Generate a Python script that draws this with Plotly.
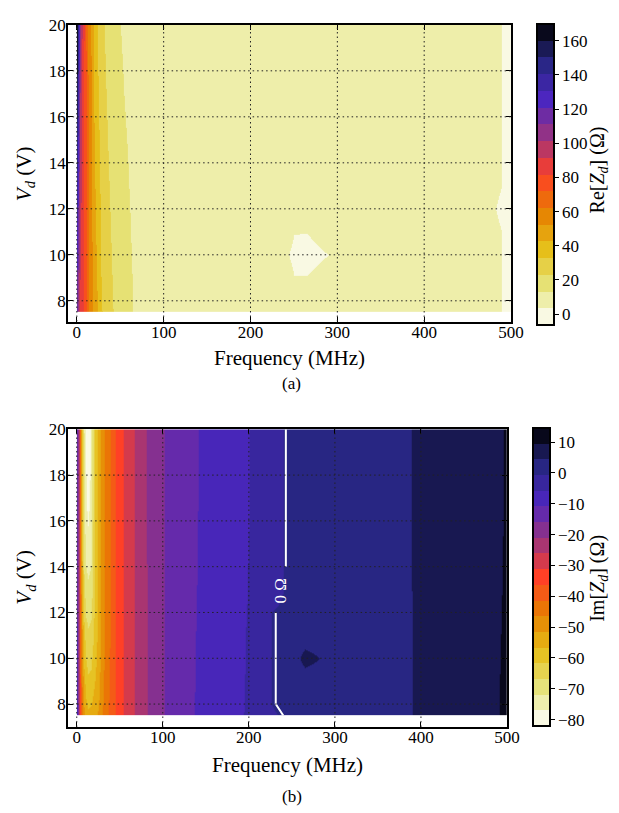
import plotly.graph_objects as go

# ---------------- data ----------------
freq_mhz = [0, 2, 4, 6, 8, 10, 13, 16, 20, 24, 28, 33, 39, 44, 54, 66, 80, 100,
            138, 197, 230, 250, 265, 300, 393, 450, 490, 500]
vd_volts = [7.5, 8, 9, 10, 11, 12, 13, 14, 16, 18, 20]

# Re[Z_d] (Ohm), one row per V_d
re_zd = [
    [112, 98, 90, 85, 80, 73, 64, 57, 48, 42, 34, 29, 25, 21.5, 16.8, 13.0, 11.0, 9.5, 8.8, 8.3, 8.0, 7.8, 7.7, 7.5, 7.0, 6.0, 3.5, 1.5],
    [114, 99, 90.5, 85.3, 80.1, 73, 63.9, 56.8, 47.7, 41.6, 33.7, 28.7, 24.7, 21.2, 16.6, 12.9, 10.9, 9.5, 8.8, 8.3, 8.0, 7.8, 7.7, 7.5, 7.0, 6.0, 3.5, 1.5],
    [119, 101, 91.8, 85.8, 80.2, 72.9, 63.8, 56.4, 47.0, 40.7, 33.0, 28.1, 24.1, 20.7, 16.3, 12.7, 10.8, 9.4, 8.7, 8.3, 8.0, 3.75, 3.85, 7.5, 7.0, 6.0, 3.5, 1.5],
    [124, 103, 93.0, 86.4, 80.4, 72.8, 63.6, 56.0, 46.4, 39.8, 32.4, 27.5, 23.5, 20.2, 15.9, 12.5, 10.7, 9.4, 8.7, 8.2, 6.0, 2.5, 1.5, 4.5, 7.0, 6.0, 3.5, 1.5],
    [128, 106, 94.2, 87.0, 80.6, 72.7, 63.4, 55.6, 45.8, 38.9, 31.8, 26.9, 22.9, 19.7, 15.5, 12.3, 10.6, 9.3, 8.7, 8.2, 7.9, 3.75, 3.7, 7.5, 7.0, 6.0, 3.5, 1.5],
    [133, 108, 95.4, 87.5, 80.7, 72.6, 63.3, 55.2, 45.1, 38.0, 31.1, 26.3, 22.3, 19.2, 15.2, 12.1, 10.5, 9.2, 8.6, 8.2, 7.9, 7.7, 7.6, 7.5, 7.0, 5.8, 3.0, 1.5],
    [137.5, 110, 96.6, 88.1, 80.9, 72.6, 63.1, 54.8, 44.5, 37.2, 30.5, 25.7, 21.7, 18.6, 14.8, 11.9, 10.3, 9.2, 8.6, 8.2, 7.9, 7.7, 7.6, 7.5, 7.0, 6.0, 3.5, 1.5],
    [142, 112, 97.8, 88.6, 81.0, 72.5, 63.0, 54.4, 43.8, 36.3, 29.8, 25.1, 21.1, 18.1, 14.5, 11.7, 10.2, 9.1, 8.5, 8.1, 7.9, 7.7, 7.6, 7.4, 7.0, 6.0, 3.5, 1.5],
    [151, 116, 100.2, 89.8, 81.4, 72.3, 62.6, 53.6, 42.6, 34.5, 28.6, 23.9, 19.9, 17.1, 13.7, 11.3, 10.0, 9.0, 8.5, 8.1, 7.9, 7.7, 7.6, 7.4, 7.0, 6.0, 3.5, 1.5],
    [161, 121, 102.6, 90.9, 81.7, 72.2, 62.3, 52.8, 41.3, 32.8, 27.3, 22.7, 18.7, 16.0, 13.0, 10.9, 9.7, 8.9, 8.4, 8.0, 7.8, 7.6, 7.5, 7.4, 7.0, 6.0, 3.5, 1.5],
    [170, 125, 105, 92, 82, 72, 62, 52, 40, 31, 26, 21.5, 17.5, 15, 12.3, 10.5, 9.5, 8.8, 8.3, 8.0, 7.8, 7.6, 7.5, 7.4, 7.0, 6.0, 3.5, 1.5],
]

# Im[Z_d] (Ohm), one row per V_d
im_zd = [
    [-10, -22, -35, -44, -50, -54, -55.5, -55, -53, -51, -48, -43.5, -39.5, -36.5, -31.4, -26.4, -21.4, -16.2, -10.7, -5.5, -1.2, 1.2, 1.4, 2.1, 4.4, 7.5, 9.0, 14.5],
    [-10, -22, -35.5, -45, -52, -56, -57.5, -57, -55, -52.5, -49, -44, -40, -36.5, -31.4, -26.4, -21.4, -16.2, -10.7, -5.6, -0.1, 1.5, 1.3, 2.1, 4.4, 7.5, 9.0, 13.5],
    [-10.3, -22.5, -36, -47, -55, -59, -61, -60.5, -57.5, -54, -50, -45, -40.3, -36.5, -31.4, -26.4, -21.4, -16.2, -10.8, -5.6, -0.1, 1.5, 1.8, 2.1, 4.4, 7.4, 9.0, 12.5],
    [-10.5, -23, -37, -49, -58, -62, -63.5, -63, -59.5, -55, -50.5, -45.5, -40.5, -36.5, -31.4, -26.4, -21.4, -16.2, -10.8, -5.7, -0.1, 1.5, 6.0, 2.5, 4.4, 7.4, 9.0, 12.0],
    [-10.8, -23.5, -37.5, -51, -60, -64.5, -66, -65.5, -61, -55.5, -50.5, -45.7, -40.7, -36.5, -31.4, -26.4, -21.4, -16.2, -10.9, -5.7, -0.1, 1.5, 1.8, 2.1, 4.4, 7.3, 8.9, 11.0],
    [-11, -24, -38, -53, -63, -67.5, -68.5, -67.5, -62, -55.8, -50.7, -45.8, -40.8, -36.5, -31.4, -26.4, -21.4, -16.2, -11.0, -5.8, -0.1, 1.5, 1.3, 2.1, 4.4, 7.2, 8.9, 10.5],
    [-11.2, -24.3, -38.5, -55, -65.5, -70, -71, -70, -62.5, -55.9, -50.8, -46.0, -41.0, -36.5, -31.4, -26.4, -21.4, -16.2, -11.0, -5.9, -4.0, 2.15, 2.3, 2.6, 4.4, 7.1, 8.9, 10.2],
    [-11.4, -24.5, -39, -56.5, -67.5, -72, -73, -72, -63, -56, -51, -46.1, -41.1, -36.5, -31.4, -26.4, -21.4, -16.2, -11.1, -5.9, -4.0, 2.15, 2.3, 2.6, 4.4, 7.1, 8.8, 10.1],
    [-11.6, -24.7, -39.5, -58, -70, -75.5, -77.5, -74.5, -63, -56, -51, -46.2, -41.2, -36.5, -31.4, -26.4, -21.3, -16.2, -11.1, -6.0, -4.0, 2.15, 2.3, 2.6, 4.4, 7.0, 8.8, 10.0],
    [-11.8, -25, -40, -59, -71, -77, -80.5, -75.5, -63, -56, -51, -46.2, -41.2, -36.5, -31.4, -26.4, -21.3, -16.2, -11.2, -6.0, -4.0, 2.15, 2.3, 2.6, 4.4, 7.0, 8.8, 10.0],
    [-12, -25, -40, -60, -72, -78, -82, -76, -63, -56, -51, -46.2, -41.2, -36.5, -31.4, -26.4, -21.3, -16.2, -11.2, -6.0, -4.0, 2.15, 2.3, 2.6, 4.4, 7.0, 8.8, 9.9],
]

re_levels = dict(zmin=-6.2, zmax=170.0, bands=18)
im_levels = dict(zmin=-82.1, zmax=14.5, bands=19)

x_ticks = [0, 100, 200, 300, 400, 500]
y_ticks = [8, 10, 12, 14, 16, 18, 20]
re_cb_ticks = [0, 20, 40, 60, 80, 100, 120, 140, 160]
im_cb_ticks = [-80, -70, -60, -50, -40, -30, -20, -10, 0, 10]

SERIF = "Times New Roman"
W, H = 619, 813
HS = 1.0235  # horizontal placement factor (the captured page comes out slightly narrower)


def fx(px):
    return px * HS / W


def fy(px):
    return 1 - px / H


# ---------------- colour map (matplotlib CMRmap, reversed) ----------------
CMR = [(0.0, (0, 0, 0)), (0.125, (0.15, 0.15, 0.5)), (0.25, (0.3, 0.15, 0.75)),
       (0.375, (0.6, 0.2, 0.5)), (0.5, (1.0, 0.25, 0.15)), (0.625, (0.9, 0.5, 0.0)),
       (0.75, (0.9, 0.75, 0.1)), (0.875, (0.9, 0.9, 0.5)), (1.0, (1.0, 1.0, 1.0))]


def cmr_r(t):
    s = 1.0 - t
    for (a, ca), (b, cb) in zip(CMR[:-1], CMR[1:]):
        if s <= b:
            u = (s - a) / (b - a)
            return "rgb(%d,%d,%d)" % tuple(round(255 * (ca[i] + u * (cb[i] - ca[i]))) for i in range(3))
    return "rgb(255,255,255)"


def stepped_scale(n):
    cols = [cmr_r((j + 0.5) / n) for j in range(n)]
    scale = []
    for j, c in enumerate(cols):
        scale += [[j / n, c], [(j + 1) / n, c]]
    return scale


def minus(v):
    return ("\u2212%g" % abs(v)) if v < 0 else "%g" % v


def filled(z, lv, xa, ya):
    n = lv["bands"]
    size = (lv["zmax"] - lv["zmin"]) / n
    return go.Contour(
        x=freq_mhz, y=vd_volts, z=z, xaxis=xa, yaxis=ya,
        autocontour=False,
        contours=dict(start=lv["zmin"] + size, end=lv["zmax"] - size + size * 1e-3,
                      size=size, coloring="heatmap", showlines=False),
        colorscale=stepped_scale(n), zauto=False, zmin=lv["zmin"], zmax=lv["zmax"],
        line=dict(width=0, smoothing=0), showscale=False, hoverinfo="skip")


def colorbar_holder(lv, ticks, xa, ya, cx, cy, clen):
    return go.Scatter(
        x=[freq_mhz[0]], y=[vd_volts[0]], xaxis=xa, yaxis=ya, mode="markers",
        marker=dict(size=1, opacity=0, color=[lv["zmin"]], cmin=lv["zmin"], cmax=lv["zmax"],
                    colorscale=stepped_scale(lv["bands"]), showscale=True,
                    colorbar=dict(x=cx, xanchor="left", y=cy, yanchor="middle",
                                  len=clen, lenmode="fraction", thickness=17,
                                  thicknessmode="pixels", xpad=0, ypad=0,
                                  outlinewidth=2, outlinecolor="black",
                                  tickvals=ticks, ticktext=[minus(t) for t in ticks],
                                  ticks="outside", ticklen=4, tickwidth=1, tickcolor="black",
                                  tickfont=dict(family=SERIF, size=17, color="black"))),
        hoverinfo="skip", showlegend=False)


def zero_line(rows, xa, ya):
    return go.Contour(
        x=freq_mhz, y=[vd_volts[i] for i in rows], z=[im_zd[i] for i in rows],
        xaxis=xa, yaxis=ya, autocontour=False,
        contours=dict(start=0, end=0.5, size=1, coloring="none", showlines=True),
        line=dict(color="white", width=2, smoothing=0), showscale=False, hoverinfo="skip")


fig = go.Figure()
fig.add_trace(filled(re_zd, re_levels, "x", "y"))
fig.add_trace(filled(im_zd, im_levels, "x2", "y2"))
fig.add_trace(zero_line([0, 1, 2, 3, 4, 5], "x2", "y2"))
fig.add_trace(zero_line([7, 8, 9, 10], "x2", "y2"))
fig.add_trace(colorbar_holder(re_levels, re_cb_ticks, "x", "y", fx(536), fy(167), 304 / H))
fig.add_trace(colorbar_holder(im_levels, im_cb_ticks, "x2", "y2", fx(532), fy(574.5), 301 / H))

tickfont = dict(family=SERIF, size=17, color="black")
ax_common = dict(ticks="inside", ticklen=5, tickwidth=1, tickcolor="black", showline=True,
                 linewidth=2, linecolor="black", mirror="ticks", showgrid=False,
                 zeroline=False, tickfont=tickfont)

fig.update_layout(
    width=W, height=H, margin=dict(l=0, r=0, t=0, b=0),
    paper_bgcolor="white", plot_bgcolor="white", showlegend=False,
    font=dict(family=SERIF, color="black"),
    xaxis=dict(domain=[fx(68), fx(510)], range=[-10, 500], anchor="y", tickvals=x_ticks,
               ticklabelstandoff=-6, **ax_common),
    yaxis=dict(domain=[fy(316), fy(16)], range=[7.1, 20], anchor="x", tickvals=y_ticks,
               ticklabelstandoff=-3, **ax_common),
    xaxis2=dict(domain=[fx(68), fx(506)], range=[-10, 500], anchor="y2", tickvals=x_ticks,
                ticklabelstandoff=-6, **ax_common),
    yaxis2=dict(domain=[fy(726), fy(425)], range=[7.0, 20], anchor="x2", tickvals=y_ticks,
                ticklabelstandoff=-3, **ax_common),
)

# dotted grid drawn above the filled contours
shapes = []
for xr, yr, yrange in (("x", "y", (7.1, 20)), ("x2", "y2", (7.0, 20))):
    for xv in x_ticks[:-1]:
        shapes.append(dict(type="line", xref=xr, yref=yr, x0=xv, x1=xv, y0=yrange[0], y1=yrange[1],
                           line=dict(color="#222", width=1, dash="1.5px,3px"), layer="above"))
    for yv in y_ticks[:-1]:
        shapes.append(dict(type="line", xref=xr, yref=yr, x0=-10, x1=500, y0=yv, y1=yv,
                           line=dict(color="#222", width=1, dash="1.5px,3px"), layer="above"))
fig.update_layout(shapes=shapes)


def txt(text, xpx, ypx, size=21, angle=0):
    return dict(text=text, x=fx(xpx), y=fy(ypx), xref="paper", yref="paper",
                xanchor="center", yanchor="middle", showarrow=False, textangle=angle,
                font=dict(family=SERIF, size=size, color="black"))


ann = [
    txt("Frequency (MHz)", 289, 353),
    txt("Frequency (MHz)", 287, 764),
    txt("<i>V<sub>d</sub></i> (V)", 25, 167, angle=-90),
    txt("<i>V<sub>d</sub></i> (V)", 25, 575, angle=-90),
    txt("Re[<i>Z<sub>d</sub></i>] (\u03a9)", 597, 163, size=20, angle=-90),
    txt("Im[<i>Z<sub>d</sub></i>] (\u03a9)", 597, 576, size=20, angle=-90),
    txt("(a)", 291, 379, size=17),
    txt("(b)", 291, 796, size=17),
    dict(text="0 \u03a9", x=237, y=12.95, xref="x2", yref="y2", showarrow=False,
         textangle=-90, xanchor="center", yanchor="middle",
         font=dict(family=SERIF, size=17, color="white")),
]
fig.update_layout(annotations=ann)

fig.write_html("out.html")
